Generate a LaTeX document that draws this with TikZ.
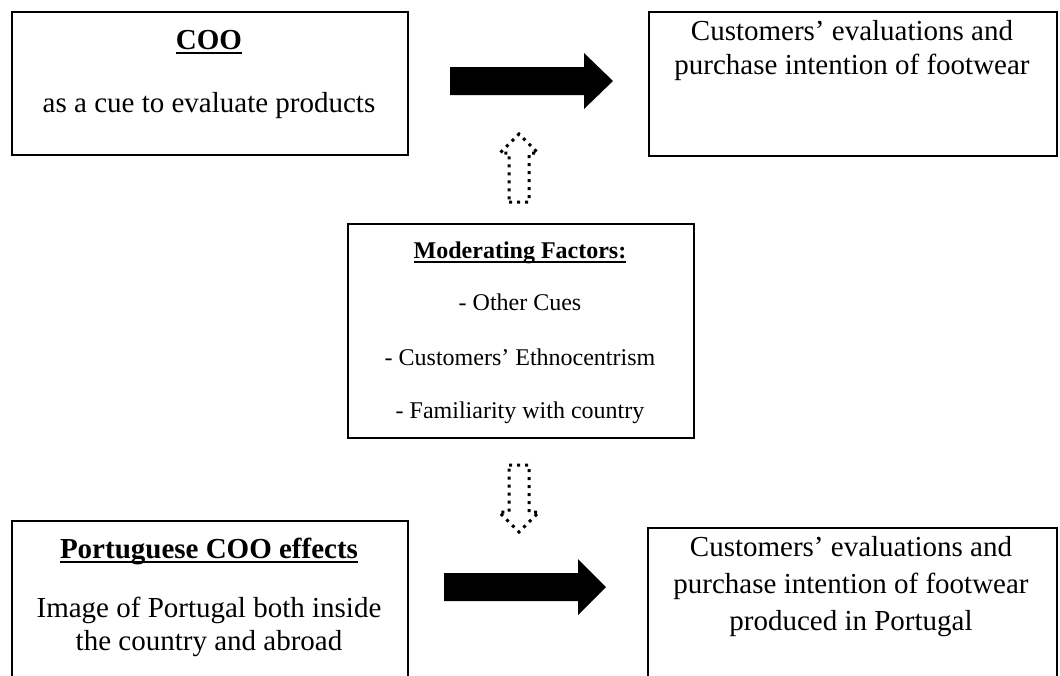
\documentclass[tikz,border=0pt]{standalone}
\usepackage{fontspec}
\setmainfont{Liberation Serif}
% heavy underline placed a fixed distance under the baseline
\newcommand{\ulbar}[1]{\setbox0=\hbox{#1}\rlap{\rule[-5pt]{\wd0}{1.8pt}}\box0}
\begin{document}
\begin{tikzpicture}[x=1pt,y=-1pt,
  box/.style={draw=black, line width=2pt, inner sep=0pt, anchor=north west},
  txt/.style={anchor=base, inner sep=0pt, font=\fontsize{29}{34}\selectfont},
  small/.style={anchor=base, inner sep=0pt, font=\fontsize{24}{28}\selectfont},
  blockarrow/.style={fill=black},
  dotarrow/.style={line width=3pt, dash pattern=on 3pt off 5pt, line join=miter}
]
\useasboundingbox (0,0) rectangle (1060,675);
\begin{scope}
\clip (0,0) rectangle (1060,675);

% boxes
\node[box, minimum width=396pt, minimum height=143pt] (coo) at (11,11) {};
\node[box, minimum width=408pt, minimum height=144pt] (eval) at (648,11) {};
\node[box, minimum width=346pt, minimum height=214pt] (mod) at (347,223) {};
\node[box, minimum width=396pt, minimum height=200pt] (pt) at (11,520) {};
\node[box, minimum width=409pt, minimum height=200pt] (evalpt) at (647,527) {};

% texts of the upper row
\node[txt] (cootitle) at (209,49) {\bfseries\ulbar{COO}};
\node[txt] (cootext) at (209,112) {as a cue to evaluate products};
\node[txt] (evalA) at (852,40) {Customers’ evaluations and};
\node[txt] (evalB) at (852,74) {purchase intention of footwear};

% moderating factors
\node[small] (modtitle) at (520,258) {\bfseries\ulbar{Moderating Factors:}};
\node[small] (modA) at (520,310) {- Other Cues};
\node[small] (modB) at (520,365) {- Customers’ Ethnocentrism};
\node[small] (modC) at (520,418) {- Familiarity with country};

% texts of the lower row
\node[txt] (pttitle) at (209,558) {\bfseries\ulbar{Portuguese COO effects}};
\node[txt] (ptA) at (209,617) {Image of Portugal both inside};
\node[txt] (ptB) at (209,650) {the country and abroad};
\node[txt] (evalptA) at (851,556) {Customers’ evaluations and};
\node[txt] (evalptB) at (851,593) {purchase intention of footwear};
\node[txt] (evalptC) at (851,630) {produced in Portugal};

% solid block arrows
\fill[blockarrow] (450,67) -- (584,67) -- (584,53) -- (613,81) -- (584,109)
  -- (584,95) -- (450,95) -- cycle;
\fill[blockarrow] (444,573) -- (578,573) -- (578,559) -- (606,587) -- (578,615)
  -- (578,601) -- (444,601) -- cycle;

% dotted hollow arrows
\draw[dotarrow] (509,202) -- (529,202) -- (529,153) -- (538,153) -- (519,134)
  -- (500,153) -- (509,153) -- cycle;
\draw[dotarrow] (509,465) -- (529,465) -- (529,512) -- (539,512) -- (519,532)
  -- (499,512) -- (509,512) -- cycle;
\end{scope}
\end{tikzpicture}
\end{document}
